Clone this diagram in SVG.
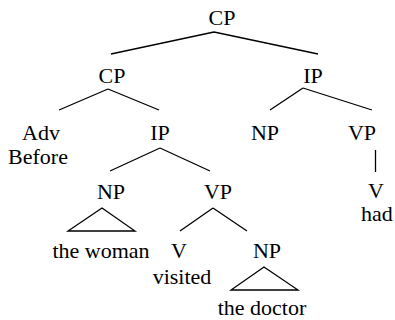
<svg xmlns="http://www.w3.org/2000/svg" width="395" height="320" viewBox="0 0 395 320">
<style>
text{font-family:"Liberation Serif","Times New Roman",serif;font-size:22px;fill:#000;text-anchor:middle}
.e{stroke:#000;stroke-width:1.3;fill:none}
</style>
<rect width="395" height="320" fill="#fff"/>
<g id="connectors">
<path class="e" d="M214,32 L111,54 M214,32 L318,54"/>
<path class="e" d="M108,89 L59,110 M108,89 L159,110"/>
<path class="e" d="M303,88 L270,110 M303,88 L372,110"/>
<path class="e" d="M375.5,150 L375.5,172"/>
<path class="e" d="M160,148 L110,171 M160,148 L210,171"/>
<path class="e" d="M213,208 L180,231 M213,208 L247,231"/>
<polygon class="e" points="102,208 68,231 135,231"/>
<polygon class="e" points="264,267 231,290 298,290"/>
</g>
<g id="n-cp-root"><text x="222" y="25">CP</text></g>
<g id="n-cp"><text x="112" y="83">CP</text></g>
<g id="n-ip-right"><text x="313" y="83">IP</text></g>
<g id="n-adv"><text x="41" y="140">Adv</text><text x="38" y="164">Before</text></g>
<g id="n-ip"><text x="160" y="140">IP</text></g>
<g id="n-np-right"><text x="265" y="140">NP</text></g>
<g id="n-vp-right"><text x="362" y="140">VP</text></g>
<g id="n-np"><text x="111" y="199">NP</text></g>
<g id="n-vp"><text x="218" y="199">VP</text></g>
<g id="n-v-right"><text x="376" y="198">V</text><text x="377" y="221">had</text></g>
<g id="n-the-woman"><text x="101" y="258">the woman</text></g>
<g id="n-v"><text x="179" y="258">V</text><text x="182" y="284">visited</text></g>
<g id="n-np2"><text x="267" y="258">NP</text></g>
<g id="n-the-doctor"><text x="262" y="315">the doctor</text></g>
</svg>
